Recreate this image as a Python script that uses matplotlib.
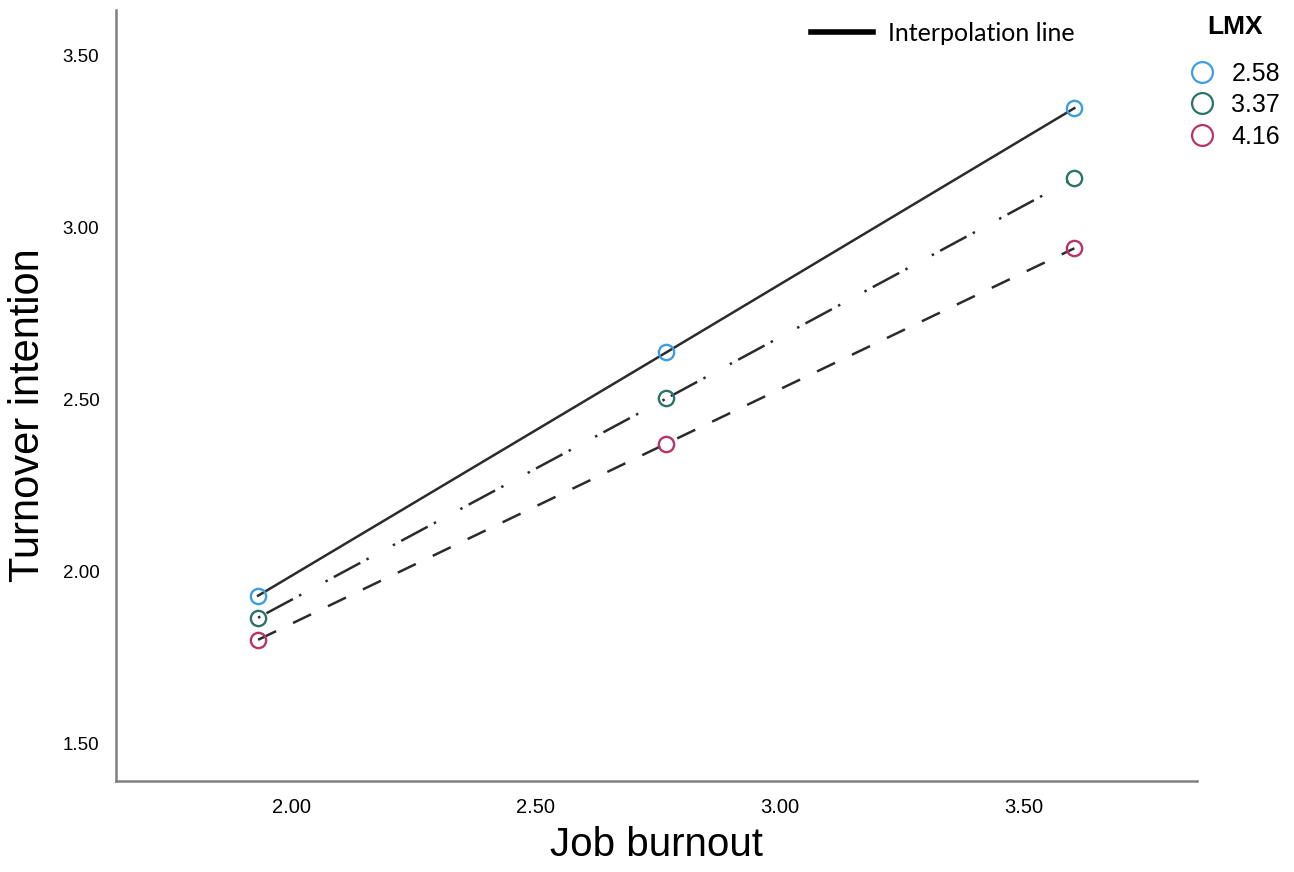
import matplotlib.pyplot as plt
from matplotlib.lines import Line2D

# 数据
job_burnout = [1.932, 2.768, 3.603]
lmx_levels = ["2.58", "3.37", "4.16"]
turnover = {
    "2.58": [1.930, 2.637, 3.346],
    "3.37": [1.866, 2.503, 3.142],
    "4.16": [1.802, 2.372, 2.939],
}
marker_colors = ["#3c9de5", "#2a7467", "#b8336a"]
line_styles = ["-", (0, (1, 2.8, 12, 2.8, 1, 11)), (0, (8, 7.5))]
x_ticks = [2.00, 2.50, 3.00, 3.50]
y_ticks = [1.50, 2.00, 2.50, 3.00, 3.50]

fig = plt.figure(figsize=(12.94, 8.72), dpi=100)
ax = fig.add_axes([0.0896, 0.1044, 0.8354, 0.8841])

for lvl, col, ls in zip(lmx_levels, marker_colors, line_styles):
    ax.plot(job_burnout, turnover[lvl], color="#2b2b2b", lw=1.8, linestyle=ls, zorder=2)
    ax.plot(job_burnout, turnover[lvl], linestyle="none", marker="o", ms=11,
            mfc="none", mec=col, mew=1.7, zorder=3)

ax.set_xlim(1.641, 3.854)
ax.set_ylim(1.392, 3.631)
ax.set_xticks(x_ticks)
ax.set_xticklabels([f"{v:.2f}" for v in x_ticks], family="Liberation Sans", fontsize=14.5)
ax.set_yticks(y_ticks)
ax.set_yticklabels([f"{v:.2f}" for v in y_ticks], family="Liberation Sans", fontsize=13.5)
ax.tick_params(axis="x", length=0, pad=12)
ax.tick_params(axis="y", length=0, pad=12)

for s in ["top", "right"]:
    ax.spines[s].set_visible(False)
for s in ["left", "bottom"]:
    ax.spines[s].set_color("#808080")
    ax.spines[s].set_linewidth(1.8)

ax.set_xlabel("Job burnout", fontsize=29, family="Liberation Sans")
ax.set_ylabel("Turnover intention", fontsize=30, family="Liberation Sans")
ax.xaxis.set_label_coords(0.50, -0.059)
ax.yaxis.set_label_coords(-0.063, 0.475)

# 插值线图例
h_line = [Line2D([0], [0], color="black", lw=4)]
leg1 = fig.legend(h_line, ["Interpolation line"], loc="center left",
                  bbox_to_anchor=(0.627, 0.9616), frameon=False, handlelength=2.45,
                  handletextpad=0.6, borderpad=0, borderaxespad=0,
                  prop={"family": ["Lato", "DejaVu Sans"], "size": 18})

# LMX图例
h_pts = [Line2D([0], [0], linestyle="none", marker="o", ms=15, mfc="none", mec=c, mew=1.6)
         for c in marker_colors]
leg2 = fig.legend(h_pts, lmx_levels, title="LMX", loc="upper left",
                  bbox_to_anchor=(0.9192, 0.983), frameon=False, handletextpad=0.68,
                  handlelength=1.0, labelspacing=0.3, borderpad=0, borderaxespad=0,
                  prop={"family": "Liberation Sans", "size": 18},
                  title_fontproperties={"family": "Liberation Sans", "size": 19, "weight": "bold"})
leg2._legend_box.align = "center"
leg2._legend_box.sep = 16.5  # 标题与条目之间的间距

fig.savefig("out.png", dpi=100)
